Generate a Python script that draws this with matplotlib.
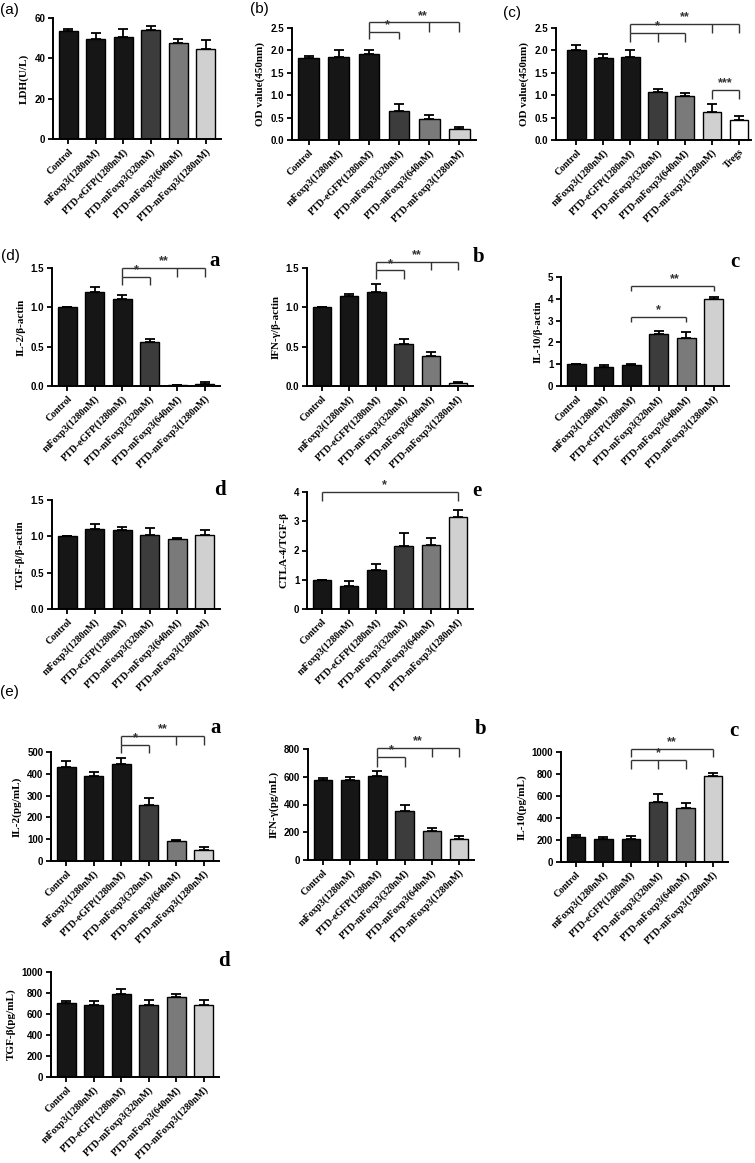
import matplotlib.pyplot as plt
import numpy as np

W, H = 755, 1163

# group names and fills
groups6 = ["Control", "mFoxp3(1280nM)", "PTD-eGFP(1280nM)", "PTD-mFoxp3(320nM)",
           "PTD-mFoxp3(640nM)", "PTD-mFoxp3(1280nM)"]
groups7 = groups6 + ["Tregs"]
colors6 = ["#161616", "#161616", "#161616", "#3c3c3c", "#7a7a7a", "#d0d0d0"]
colors7 = colors6 + ["#ffffff"]

# (a) LDH
ldh = [53.5, 49.5, 50.5, 54.0, 47.5, 44.5]
ldh_err = [1.0, 3.0, 4.0, 2.0, 2.0, 4.5]
# (b) OD 450
od_b = [1.82, 1.85, 1.92, 0.65, 0.46, 0.25]
od_b_err = [0.05, 0.15, 0.10, 0.15, 0.10, 0.05]
# (c) OD 450 with Tregs
od_c = [2.02, 1.82, 1.85, 1.08, 0.98, 0.63, 0.45]
od_c_err = [0.10, 0.11, 0.16, 0.06, 0.06, 0.17, 0.09]
# (d) mRNA ratios
il2_r = [1.00, 1.20, 1.10, 0.56, 0.01, 0.03]
il2_r_err = [0.0, 0.06, 0.06, 0.04, 0.003, 0.02]
ifn_r = [1.00, 1.14, 1.20, 0.53, 0.38, 0.04]
ifn_r_err = [0.0, 0.03, 0.10, 0.07, 0.05, 0.01]
il10_r = [1.00, 0.87, 0.96, 2.40, 2.22, 3.98]
il10_r_err = [0.0, 0.10, 0.06, 0.12, 0.25, 0.08]
tgf_r = [1.00, 1.10, 1.09, 1.02, 0.96, 1.02]
tgf_r_err = [0.0, 0.07, 0.04, 0.09, 0.02, 0.07]
ctla = [1.00, 0.80, 1.33, 2.15, 2.18, 3.13]
ctla_err = [0.0, 0.15, 0.20, 0.45, 0.25, 0.27]
# (e) ELISA pg/mL
il2_pg = [433, 392, 446, 256, 90, 50]
il2_pg_err = [25, 15, 25, 35, 8, 12]
ifn_pg = [575, 575, 605, 355, 208, 150]
ifn_pg_err = [15, 25, 40, 45, 20, 25]
il10_pg = [225, 210, 208, 548, 490, 780]
il10_pg_err = [20, 15, 25, 70, 45, 30]
tgf_pg = [705, 688, 790, 690, 765, 690]
tgf_pg_err = [20, 40, 50, 45, 25, 40]

serif = "Liberation Serif"
sans = "Liberation Sans"

fig = plt.figure(figsize=(W / 100, H / 100), dpi=100)


def box(left, top, right, bottom):
    return [left / W, 1 - bottom / H, (right - left) / W, (bottom - top) / H]


def bracket(ax, x0, x1, y, yb, mids=(), label="*", lx=None):
    kw = dict(color="#333333", lw=1.0, clip_on=False, solid_capstyle="butt")
    ax.plot([x0, x1], [y, y], **kw)
    for xx in [x0, x1] + list(mids):
        ax.plot([xx, xx], [y, yb], **kw)
    if lx is None:
        lx = (x0 + x1) / 2
    ax.annotate(label, (lx, y), xytext=(0, 0.3), textcoords="offset points",
                ha="center", va="bottom", fontsize=9, fontweight="bold",
                family=sans, color="#333333", annotation_clip=False)


def panel(rect, vals, errs, cols, names, ymax, yticks, yfmt, ylabel, xlim):
    ax = fig.add_axes(rect)
    x = np.arange(len(vals))
    ax.bar(x, vals, width=0.68, color=cols, edgecolor="black", linewidth=1.0, zorder=2)
    ax.errorbar(x, vals, yerr=[np.zeros(len(vals)), errs], fmt="none",
                ecolor="black", elinewidth=1.3, capsize=3.5, capthick=1.3, zorder=1)
    ax.set_xlim(*xlim)
    ax.set_ylim(0, ymax)
    ax.set_yticks(yticks)
    ax.set_yticklabels([yfmt.format(t) for t in yticks], fontsize=7,
                       fontweight="bold", family=sans)
    ax.set_xticks(x)
    ax.set_xticklabels(names, rotation=45, ha="right", rotation_mode="anchor",
                       fontsize=7.1, fontweight="bold", family=serif)
    ax.set_ylabel(ylabel, fontsize=8, fontweight="bold", family=serif, labelpad=4)
    for s in ["top", "right"]:
        ax.spines[s].set_visible(False)
    for s in ["left", "bottom"]:
        ax.spines[s].set_linewidth(1.4)
    ax.tick_params(length=3.5, width=1.3, pad=2)
    return ax


X6 = (-0.55, 5.55)

# row 1
ax = panel(box(53, 18, 221, 139), ldh, ldh_err, colors6, groups6, 60,
           [0, 20, 40, 60], "{:g}", "LDH(U/L)", X6)
ax = panel(box(292, 28, 476, 140), od_b, od_b_err, colors6, groups6, 2.5,
           [0, 0.5, 1.0, 1.5, 2.0, 2.5], "{:.1f}", "OD value(450nm)", X6)
bracket(ax, 2, 5, 2.63, 2.41, mids=[4], label="**", lx=3.8)
bracket(ax, 2, 3, 2.41, 2.25, label="*", lx=2.6)
ax = panel(box(556, 28, 751, 140), od_c, od_c_err, colors7, groups7, 2.5,
           [0, 0.5, 1.0, 1.5, 2.0, 2.5], "{:.1f}", "OD value(450nm)", (-0.75, 6.45))
bracket(ax, 2, 6, 2.59, 2.39, mids=[5], label="**", lx=4)
bracket(ax, 2, 4, 2.39, 2.19, mids=[3], label="*", lx=3)
bracket(ax, 5, 6, 1.12, 0.92, label="***")

# row 2
ax = panel(box(52, 268, 220, 386), il2_r, il2_r_err, colors6, groups6, 1.5,
           [0, 0.5, 1.0, 1.5], "{:.1f}", "IL-2/β-actin", X6)
bracket(ax, 2, 5, 1.50, 1.39, mids=[4], label="**", lx=3.5)
bracket(ax, 2, 3, 1.39, 1.28, label="*")
ax = panel(box(307, 268, 473, 386), ifn_r, ifn_r_err, colors6, groups6, 1.5,
           [0, 0.5, 1.0, 1.5], "{:.1f}", "IFN-γ/β-actin", X6)
bracket(ax, 2, 5, 1.58, 1.47, mids=[4], label="**", lx=3.5)
bracket(ax, 2, 3, 1.47, 1.36, label="*")
ax = panel(box(561, 277, 729, 386), il10_r, il10_r_err, colors6, groups6, 5,
           [0, 1, 2, 3, 4, 5], "{:g}", "IL-10/β-actin", X6)
bracket(ax, 2, 5, 4.59, 4.36, label="**", lx=3.6)
bracket(ax, 2, 4, 3.17, 2.93, label="*", lx=3)

# row 3
ax = panel(box(52, 500, 220, 609), tgf_r, tgf_r_err, colors6, groups6, 1.5,
           [0, 0.5, 1.0, 1.5], "{:.1f}", "TGF-β/β-actin", X6)
ax = panel(box(307, 492, 473, 609), ctla, ctla_err, colors6, groups6, 4,
           [0, 1, 2, 3, 4], "{:g}", "CTLA-4/TGF-β", X6)
bracket(ax, 0, 5, 4.0, 3.7, label="*", lx=2.3)

# row 4
ax = panel(box(51, 752, 219, 861), il2_pg, il2_pg_err, colors6, groups6, 500,
           [0, 100, 200, 300, 400, 500], "{:g}", "IL-2(pg/mL)", X6)
bracket(ax, 2, 5, 573, 532, mids=[4], label="**", lx=3.5)
bracket(ax, 2, 3, 532, 495, label="*")
ax = panel(box(308, 749, 474, 860), ifn_pg, ifn_pg_err, colors6, groups6, 800,
           [0, 200, 400, 600, 800], "{:g}", "IFN-γ(pg/mL)", X6)
bracket(ax, 2, 5, 807, 742, mids=[4], label="**", lx=3.5)
bracket(ax, 2, 3, 742, 670, label="*")
ax = panel(box(561, 752, 728, 862), il10_pg, il10_pg_err, colors6, groups6, 1000,
           [0, 200, 400, 600, 800, 1000], "{:g}", "IL-10(pg/mL)", X6)
bracket(ax, 2, 5, 1027, 955, label="**", lx=3.5)
bracket(ax, 2, 4, 927, 845, mids=[3], label="*", lx=3)

# row 5
ax = panel(box(51, 972, 219, 1077), tgf_pg, tgf_pg_err, colors6, groups6, 1000,
           [0, 200, 400, 600, 800, 1000], "{:g}", "TGF-β(pg/mL)", X6)

# panel labels
for txt, px, py in [("(a)", 0, 10), ("(b)", 250, 9), ("(c)", 503, 13),
                    ("(d)", 1, 256), ("(e)", 0, 692)]:
    fig.text(px / W, 1 - py / H, txt, fontsize=11, family=sans, va="center", ha="left")

for txt, px, py in [("a", 215, 261), ("b", 479, 257), ("c", 735, 262),
                    ("d", 220, 490), ("e", 477, 491),
                    ("a", 216, 728), ("b", 481, 729), ("c", 734, 731),
                    ("d", 224, 961)]:
    fig.text(px / W, 1 - py / H, txt, fontsize=15, family=serif, fontweight="bold",
             va="center", ha="center")

fig.savefig("out.png", dpi=100)
